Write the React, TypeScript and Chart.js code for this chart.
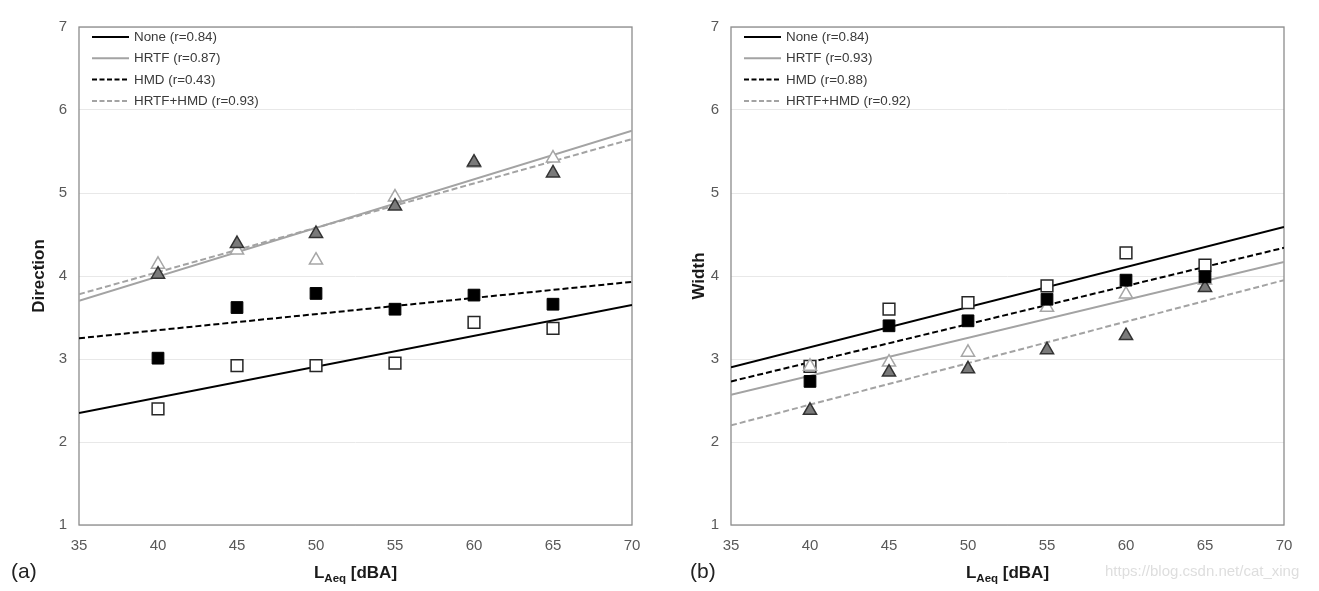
import React, { useEffect, useRef } from "react";
import { Chart, registerables } from "chart.js";

Chart.register(...registerables);

// ---------- data ----------
const xLevels = [40, 45, 50, 55, 60, 65];
const fitX = [35, 70];
const xTicks = [35, 40, 45, 50, 55, 60, 65, 70];
const yTicks = [1, 2, 3, 4, 5, 6, 7];

const seriesNames = ["None", "HRTF", "HMD", "HRTF+HMD"];

// (a) Direction
const dirNone = [2.4, 2.92, 2.92, 2.95, 3.44, 3.37];
const dirHMD = [3.01, 3.62, 3.79, 3.6, 3.77, 3.66];
const dirHRTF = [4.14, 4.31, 4.19, 4.95, 5.36, 5.42];
const dirHRTFHMD = [4.02, 4.39, 4.51, 4.84, 5.37, 5.24];
const dirFitNone = [2.35, 3.65];
const dirFitHRTF = [3.7, 5.75];
const dirFitHMD = [3.25, 3.93];
const dirFitHRTFHMD = [3.78, 5.65];
const dirR = ["0.84", "0.87", "0.43", "0.93"];

// (b) Width
const widNone = [2.91, 3.6, 3.68, 3.88, 4.28, 4.13];
const widHMD = [2.73, 3.4, 3.46, 3.72, 3.95, 3.99];
const widHRTF = [2.91, 2.96, 3.08, 3.62, 3.78, 3.95];
const widHRTFHMD = [2.38, 2.84, 2.88, 3.11, 3.28, 3.86];
const widFitNone = [2.9, 4.59];
const widFitHRTF = [2.57, 4.17];
const widFitHMD = [2.73, 4.34];
const widFitHRTFHMD = [2.2, 3.95];
const widR = ["0.84", "0.93", "0.88", "0.92"];

// ---------- styles ----------
const FONT = "'Liberation Sans', Arial, sans-serif";
const lineStyles = [
  { color: "#000000", dash: [] as number[], width: 2 },
  { color: "#a3a3a3", dash: [] as number[], width: 2 },
  { color: "#000000", dash: [6, 3], width: 2 },
  { color: "#a3a3a3", dash: [6, 3], width: 2 },
];

const pts = (xs: number[], ys: number[]) => xs.map((x, i) => ({ x, y: ys[i] }));

function buildDatasets(none: number[], hrtf: number[], hmd: number[], both: number[], fits: number[][]) {
  const markerBase = { showLine: false, pointHoverRadius: 0 };
  return [
    {
      ...markerBase,
      label: "HMD pts",
      data: pts(xLevels, hmd),
      pointStyle: "rect",
      pointRadius: 8.3,
      pointBackgroundColor: "#000000",
      pointBorderColor: "#000000",
      pointBorderWidth: 1,
    },
    {
      ...markerBase,
      label: "HRTF+HMD pts",
      data: pts(xLevels, both),
      pointStyle: "triangle",
      pointRadius: 7.6,
      pointBackgroundColor: "#7a7a7a",
      pointBorderColor: "#333333",
      pointBorderWidth: 1.5,
    },
    {
      ...markerBase,
      label: "HRTF pts",
      data: pts(xLevels, hrtf),
      pointStyle: "triangle",
      pointRadius: 7.6,
      pointBackgroundColor: "#ffffff",
      pointBorderColor: "#a6a6a6",
      pointBorderWidth: 1.5,
    },
    {
      ...markerBase,
      label: "None pts",
      data: pts(xLevels, none),
      pointStyle: "rect",
      pointRadius: 8.3,
      pointBackgroundColor: "#ffffff",
      pointBorderColor: "#262626",
      pointBorderWidth: 1.5,
    },
    ...fits.map((f, i) => ({
      label: seriesNames[i] + " fit",
      data: pts(fitX, f),
      showLine: true,
      pointRadius: 0,
      pointHoverRadius: 0,
      borderColor: lineStyles[i].color,
      borderWidth: lineStyles[i].width,
      borderDash: lineStyles[i].dash,
      tension: 0,
      fill: false,
    })),
  ];
}

type PanelProps = {
  left: number;
  width: number;
  yWidth: number;
  padRight: number;
  yTitle: string;
  panelLabel: string;
  labelX: number;
  rValues: string[];
  none: number[];
  hrtf: number[];
  hmd: number[];
  both: number[];
  fits: number[][];
  watermark?: string;
};

function Panel(p: PanelProps) {
  const ref = useRef<HTMLCanvasElement | null>(null);
  useEffect(() => {
    if (!ref.current) return;
    const decor = {
      id: "decor",
      beforeDatasetsDraw(chart: any) {
        const { ctx, chartArea: a } = chart;
        ctx.save();
        ctx.strokeStyle = "#8c8c8c";
        ctx.lineWidth = 1.3;
        ctx.strokeRect(a.left, a.top, a.right - a.left, a.bottom - a.top);
        ctx.restore();
      },
      afterDraw(chart: any) {
        const { ctx, chartArea: a } = chart;
        ctx.save();
        // legend
        const lx0 = a.left + 13;
        const lx1 = a.left + 50;
        ctx.font = `13.4px ${FONT}`;
        ctx.textBaseline = "middle";
        ctx.textAlign = "left";
        seriesNames.forEach((n, i) => {
          const y = a.top + 10 + i * 21.3;
          const st = lineStyles[i];
          ctx.beginPath();
          ctx.setLineDash(st.dash.length ? [5, 2.5] : []);
          ctx.strokeStyle = st.color;
          ctx.lineWidth = 2;
          ctx.moveTo(lx0, y);
          ctx.lineTo(lx1, y);
          ctx.stroke();
          ctx.setLineDash([]);
          ctx.fillStyle = "#3a3a3a";
          ctx.fillText(`${n} (r=${p.rValues[i]})`, a.left + 55, y + 0.5);
        });
        // x title with subscript
        const cx = (a.left + a.right) / 2;
        const ty = 572;
        const big = `bold 17px ${FONT}`;
        const small = `bold 11.5px ${FONT}`;
        ctx.font = big;
        const wL = ctx.measureText("L").width;
        const wR = ctx.measureText(" [dBA]").width;
        ctx.font = small;
        const wS = ctx.measureText("Aeq").width;
        let x = cx - (wL + wS + wR) / 2;
        ctx.fillStyle = "#1a1a1a";
        ctx.textBaseline = "alphabetic";
        ctx.font = big;
        ctx.fillText("L", x, ty + 6);
        x += wL;
        ctx.font = small;
        ctx.fillText("Aeq", x, ty + 10);
        x += wS;
        ctx.font = big;
        ctx.fillText(" [dBA]", x, ty + 6);
        // panel label
        ctx.font = `21px ${FONT}`;
        ctx.textBaseline = "middle";
        ctx.fillStyle = "#222222";
        ctx.fillText(p.panelLabel, p.labelX, ty);
        if (p.watermark) {
          ctx.font = `15px ${FONT}`;
          ctx.fillStyle = "#dedede";
          ctx.fillText(p.watermark, 445, ty);
        }
        ctx.restore();
      },
    };
    const chart = new Chart(ref.current, {
      type: "scatter",
      data: { datasets: buildDatasets(p.none, p.hrtf, p.hmd, p.both, p.fits) as any },
      options: {
        animation: false,
        responsive: false,
        devicePixelRatio: 1,
        events: [],
        layout: { padding: { left: 0, right: p.padRight, top: 27, bottom: 0 } },
        plugins: { legend: { display: false }, tooltip: { enabled: false } },
        scales: {
          x: {
            type: "linear",
            min: 35,
            max: 70,
            afterBuildTicks: (s: any) => {
              s.ticks = xTicks.map((v) => ({ value: v }));
            },
            ticks: { padding: 12, color: "#595959", font: { family: FONT, size: 15 } },
            grid: { display: false, drawTicks: false },
            border: { display: false },
            afterFit: (s: any) => {
              s.height = 66;
            },
          },
          y: {
            type: "linear",
            min: 1,
            max: 7,
            afterBuildTicks: (s: any) => {
              s.ticks = yTicks.map((v) => ({ value: v }));
            },
            ticks: { padding: 12, color: "#595959", font: { family: FONT, size: 15 } },
            grid: { color: "#e8e8e8", lineWidth: 1, drawTicks: false },
            border: { display: false },
            title: {
              display: true,
              text: p.yTitle,
              color: "#1a1a1a",
              font: { family: FONT, size: 17, weight: "bold" },
              padding: { top: 29, bottom: 0 },
            },
            afterFit: (s: any) => {
              s.width = p.yWidth;
            },
          },
        },
      } as any,
      plugins: [decor],
    });
    return () => chart.destroy();
  }, []);
  return (
    <canvas
      ref={ref}
      width={p.width}
      height={591}
      style={{ position: "absolute", left: p.left, top: 0, width: p.width, height: 591 }}
    />
  );
}

export default function App() {
  return (
    <div style={{ position: "absolute", left: 0, top: 0, width: 1319, height: 591, background: "#ffffff", overflow: "hidden" }}>
      <Panel
        left={0}
        width={660}
        yWidth={79}
        padRight={28}
        yTitle="Direction"
        panelLabel="(a)"
        labelX={11}
        rValues={dirR}
        none={dirNone}
        hrtf={dirHRTF}
        hmd={dirHMD}
        both={dirHRTFHMD}
        fits={[dirFitNone, dirFitHRTF, dirFitHMD, dirFitHRTFHMD]}
      />
      <Panel
        left={660}
        width={659}
        yWidth={71}
        padRight={35}
        yTitle="Width"
        panelLabel="(b)"
        labelX={30}
        rValues={widR}
        none={widNone}
        hrtf={widHRTF}
        hmd={widHMD}
        both={widHRTFHMD}
        fits={[widFitNone, widFitHRTF, widFitHMD, widFitHRTFHMD]}
        watermark="https://blog.csdn.net/cat_xing"
      />
    </div>
  );
}
